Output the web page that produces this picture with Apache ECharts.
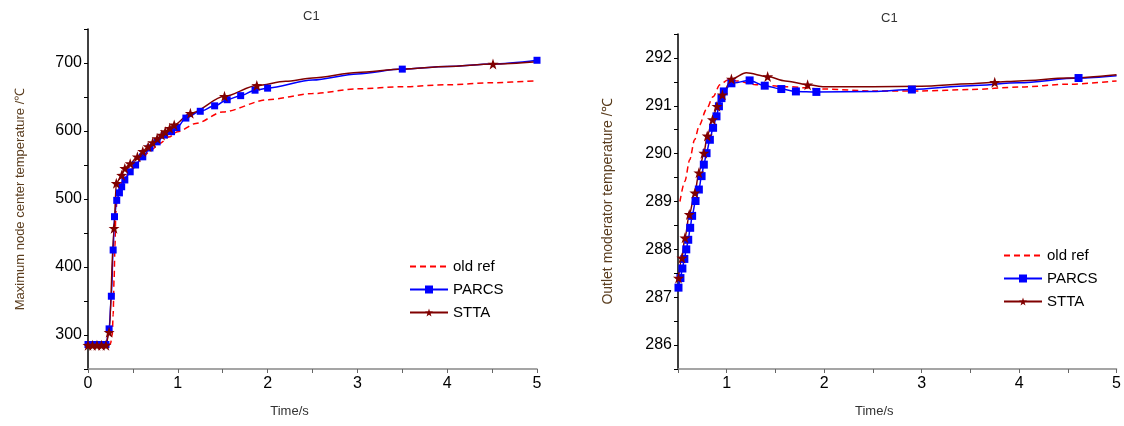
<!DOCTYPE html>
<html>
<head>
<meta charset="utf-8">
<script src="https://cdn.jsdelivr.net/npm/echarts@6.0.0/dist/echarts.min.js"></script>
<style>
html, body { margin: 0; padding: 0; background: #fff; }
#cc { width: 1124px; height: 426px; }
</style>
</head>
<body>
<div id="cc"></div>
<script>
// left chart: maximum node center temperature, [time s, temp C]
var leftOldRef = [[0, 285], [0.1, 285], [0.2, 285], [0.25, 287], [0.27, 300], [0.28, 330], [0.29, 380],
    [0.3, 430], [0.31, 480], [0.33, 512], [0.4, 530], [0.5, 545], [0.6, 560], [0.7, 572], [0.8, 582],
    [0.9, 591], [1.0, 599], [1.2, 611], [1.5, 628], [2.0, 646], [2.5, 655], [3.0, 662], [3.5, 665],
    [4.0, 668], [4.5, 671], [5.0, 674]];
var leftParcsMarks = [[0, 286], [0.05, 286], [0.1, 286], [0.15, 286], [0.2, 286], [0.235, 309], [0.26, 357],
    [0.28, 425], [0.295, 474], [0.32, 498], [0.35, 509], [0.375, 518], [0.41, 528], [0.47, 540], [0.53, 550],
    [0.61, 562], [0.69, 575], [0.77, 584], [0.85, 594], [0.93, 599], [0.99, 605], [1.09, 619], [1.25, 629],
    [1.41, 637], [1.55, 646], [1.70, 652], [1.86, 660], [2.0, 663], [3.5, 691], [5.0, 704]];
var leftParcsLine = [[2.5, 675], [3.0, 684], [4.0, 695], [4.5, 698.5]];
var leftSttaMarks = [[0, 285], [0.05, 285], [0.1, 285], [0.15, 285], [0.2, 285], [0.235, 304], [0.29, 457],
    [0.315, 523], [0.375, 535], [0.41, 545], [0.47, 552], [0.55, 562], [0.61, 570], [0.67, 577], [0.72, 583],
    [0.77, 589], [0.82, 594], [0.86, 599], [0.91, 604], [0.96, 609], [1.14, 626], [1.52, 651], [1.88, 667],
    [4.51, 698.5]];
var leftSttaLine = [[2.2, 673], [2.5, 678], [3.0, 686], [3.5, 691], [4.0, 695], [5.0, 702]];

// right chart: outlet moderator temperature
var rightOldRef = [[0.52, 289.0], [0.57, 289.42], [0.62, 289.87], [0.67, 290.29], [0.72, 290.6], [0.79, 290.92],
    [0.86, 291.19], [0.93, 291.44], [1.01, 291.54], [1.1, 291.52], [1.3, 291.44], [1.6, 291.4], [2.0, 291.35],
    [2.5, 291.31], [3.0, 291.31], [3.5, 291.34], [4.0, 291.39], [4.5, 291.45], [5.0, 291.52]];
var rightParcsMarks = [[0.505, 287.2], [0.525, 287.4], [0.545, 287.6], [0.565, 287.8], [0.585, 288.0],
    [0.605, 288.2], [0.625, 288.45], [0.645, 288.7], [0.68, 289.01], [0.714, 289.25], [0.742, 289.53],
    [0.765, 289.77], [0.793, 290.01], [0.827, 290.29], [0.86, 290.54], [0.895, 290.78], [0.92, 290.99],
    [0.946, 291.16], [0.97, 291.3], [1.048, 291.47], [1.235, 291.53], [1.39, 291.42], [1.56, 291.35],
    [1.71, 291.3], [1.92, 291.29], [2.9, 291.34], [4.61, 291.58]];
var rightParcsLine = [[2.5, 291.3], [3.5, 291.42], [4.0, 291.48], [5.0, 291.63]];
var rightSttaMarks = [[0.505, 287.4], [0.54, 287.82], [0.571, 288.24], [0.616, 288.73], [0.673, 289.18],
    [0.714, 289.6], [0.765, 290.01], [0.8, 290.37], [0.854, 290.71], [0.9, 290.99], [0.956, 291.23],
    [1.048, 291.56], [1.42, 291.61], [1.83, 291.44], [3.75, 291.49]];
var rightSttaLine = [[1.2, 291.69], [1.6, 291.52], [2.0, 291.4], [2.5, 291.4], [3.0, 291.41], [3.5, 291.46],
    [4.0, 291.52], [4.5, 291.58], [5.0, 291.65]];

var star = 'path://M50,0L61.8,35.1L98.9,35.4L69.1,57.6L80.2,93L50,71.5L19.8,93L30.9,57.6L1.1,35.4L38.2,35.1Z';
var font = 'Liberation Sans, Arial, sans-serif';

// marker points keep the series symbol, extra points only shape the line
function build(marks, extra) {
    var items = marks.map(function (p) { return { value: p }; });
    (extra || []).forEach(function (p) { items.push({ value: p, symbol: 'none' }); });
    items.sort(function (a, b) { return a.value[0] - b.value[0]; });
    return items;
}

function line(name, data, gi, color, symbol, size, dashed) {
    return {
        name: name,
        type: 'line',
        xAxisIndex: gi,
        yAxisIndex: gi,
        data: data,
        symbol: symbol,
        symbolSize: size,
        showAllSymbol: true,
        smooth: 0.3,
        smoothMonotone: 'x',
        // old ref has no markers, so hide its legend symbol too
        itemStyle: { color: color, opacity: dashed ? 0 : 1 },
        lineStyle: { color: color, width: 1.5, type: dashed ? [6, 4] : 'solid' },
        emphasis: { disabled: true }
    };
}

function xAxis(gi, min) {
    return {
        type: 'value', gridIndex: gi, min: min, max: 5, interval: 0.5,
        name: 'Time/s', nameLocation: 'middle', nameGap: 36,
        nameTextStyle: { fontSize: 13, color: '#333', fontFamily: font, padding: [0, 46, 0, 0] },
        axisLine: { lineStyle: { color: '#888', width: 1.5 } },
        axisTick: { length: 4, lineStyle: { color: '#666' } },
        axisLabel: {
            fontSize: 16, color: '#000', fontFamily: font, margin: 7,
            formatter: function (v) { return Number.isInteger(v) ? String(v) : ''; }
        },
        splitLine: { show: false }
    };
}

function yAxis(gi, min, max, interval, step, name, nameSize, gap) {
    return {
        type: 'value', gridIndex: gi, min: min, max: max, interval: interval,
        name: name, nameLocation: 'middle', nameGap: gap,
        nameTextStyle: { fontSize: nameSize, color: '#5a3d1e', fontFamily: font },
        axisLine: { show: true, lineStyle: { color: '#000', width: 1.5 } },
        axisTick: { show: true, length: 4, lineStyle: { color: '#000' } },
        axisLabel: {
            fontSize: 16, color: '#000', fontFamily: font, margin: 6,
            formatter: function (v) { return Math.abs(v / step - Math.round(v / step)) < 1e-9 ? String(v) : ''; }
        },
        splitLine: { show: false }
    };
}

function legend(left, top) {
    return {
        orient: 'vertical', left: left, top: top,
        itemWidth: 38, itemHeight: 10, itemGap: 8,
        data: ['old ref', 'PARCS', 'STTA'],
        textStyle: { fontSize: 15, color: '#000', fontFamily: font }
    };
}

var chart = echarts.init(document.getElementById('cc'));

var option = {
    animation: false,
    backgroundColor: '#fff',
    title: [
        { text: 'C1', left: 298, top: 5, textStyle: { fontSize: 13, fontWeight: 'normal', color: '#333', fontFamily: font } },
        { text: 'C1', left: 876, top: 7, textStyle: { fontSize: 13, fontWeight: 'normal', color: '#333', fontFamily: font } }
    ],
    legend: [legend(404, 254), legend(998, 243)],
    grid: [
        { left: 88, top: 29, width: 449, height: 340 },
        { left: 678, top: 34, width: 441, height: 335 }
    ],
    xAxis: [xAxis(0, 0), xAxis(1, 0.5)],
    yAxis: [
        yAxis(0, 250, 750, 50, 100, 'Maximum node center temperature /\u2103', 13, 61),
        yAxis(1, 285.5, 292.5, 0.5, 1, 'Outlet moderator temperature /\u2103', 14, 63)
    ],
    series: [
        line('old ref', build(leftOldRef), 0, '#ff0000', 'none', 0, true),
        line('PARCS', build(leftParcsMarks, leftParcsLine), 0, '#0000ff', 'rect', 7, false),
        line('STTA', build(leftSttaMarks, leftSttaLine), 0, '#800000', star, 11, false),
        line('old ref', build(rightOldRef), 1, '#ff0000', 'none', 0, true),
        line('PARCS', build(rightParcsMarks, rightParcsLine), 1, '#0000ff', 'rect', 8, false),
        line('STTA', build(rightSttaMarks, rightSttaLine), 1, '#800000', star, 11, false)
    ]
};

chart.setOption(option);
</script>
</body>
</html>
